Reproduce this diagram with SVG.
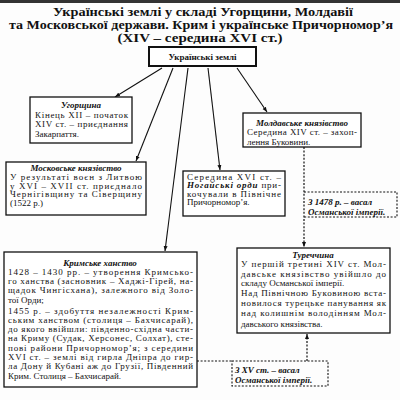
<svg xmlns="http://www.w3.org/2000/svg" width="400" height="400" viewBox="0 0 400 400">
<style>
.box{fill:#fff;stroke:#111;stroke-width:1.3}
.dbox{fill:none;stroke:#111;stroke-width:1.1;stroke-dasharray:2 1.6}
.ln{stroke:#111;stroke-width:1.1;fill:none}
.dl{stroke:#111;stroke-width:1.2;fill:none;stroke-dasharray:2 1.6}
.title{font-family:"Liberation Serif",serif;font-weight:bold;font-size:12.2px;fill:#111;text-anchor:middle}
.t{font-family:"Liberation Serif",serif;font-size:9px;fill:#111}
.h{font-weight:bold;font-style:italic}
.c{text-anchor:middle}
</style>
<defs>
<marker id="ar" viewBox="0 0 10 10" refX="10" refY="5" markerWidth="5" markerHeight="5" orient="auto-start-reverse" markerUnits="userSpaceOnUse">
<path d="M0,1 L10,5 L0,9 Z" fill="#111"/>
</marker>
</defs>
<rect width="400" height="400" fill="#fdfdfd"/>
<rect x="0" y="0" width="400" height="3" fill="#333"/>
<g id="title">
<text class="title" x="203" y="15.5" textLength="300" lengthAdjust="spacingAndGlyphs">Українські землі у складі Угорщини, Молдавії</text>
<text class="title" x="201" y="29" textLength="384" lengthAdjust="spacingAndGlyphs">та Московської держави. Крим і українське Причорномор’я</text>
<text class="title" x="200" y="42" textLength="165" lengthAdjust="spacingAndGlyphs">(XIV – середина XVI ст.)</text>
</g>
<g id="connectors">
<line class="ln" x1="162" y1="68" x2="115" y2="97" marker-end="url(#ar)"/>
<line class="ln" x1="173" y1="68" x2="136" y2="161" marker-end="url(#ar)"/>
<line class="ln" x1="188" y1="68" x2="165" y2="251" marker-end="url(#ar)"/>
<line class="ln" x1="208" y1="68" x2="220" y2="170" marker-end="url(#ar)"/>
<line class="ln" x1="237" y1="68" x2="267" y2="112" marker-end="url(#ar)"/>
<line class="dl" x1="304" y1="147" x2="304" y2="247" marker-end="url(#ar)"/>
<line class="dl" x1="307" y1="361" x2="307" y2="334" marker-end="url(#ar)"/>
<line class="dl" x1="197" y1="361" x2="232" y2="361"/>
</g>
<g id="ukr">
<rect x="149" y="47" width="107" height="19" fill="#fff" stroke="#111" stroke-width="2"/>
<text class="t c" x="202.5" y="60" font-weight="bold" font-size="9.5">Українські землі</text>
</g>
<g id="ugor">
<rect class="box" x="30" y="97" width="102" height="46"/>
<text class="t c h" x="81" y="107.5">Угорщина</text>
<text class="t" x="35" y="117.5" textLength="93" lengthAdjust="spacing">Кінець XII – початок</text>
<text class="t" x="35" y="127" textLength="93" lengthAdjust="spacing">XIV ст. – приєднання</text>
<text class="t" x="35" y="136.5">Закарпаття.</text>
</g>
<g id="mold">
<rect class="box" x="243" y="113" width="118" height="34"/>
<text class="t c h" x="302" y="125.5">Молдавське князівство</text>
<text class="t" x="247" y="135" textLength="110" lengthAdjust="spacing">Середина XIV ст. – захоп-</text>
<text class="t" x="247" y="144.5">лення Буковини.</text>
</g>
<g id="mosk">
<rect class="box" x="6" y="162" width="140" height="53"/>
<text class="t c h" x="76" y="170.5">Московське князівство</text>
<text class="t" x="10" y="180" textLength="132" lengthAdjust="spacing">У результаті воєн з Литвою</text>
<text class="t" x="10" y="188.5" textLength="132" lengthAdjust="spacing">у XVI – XVII ст. приєднало</text>
<text class="t" x="10" y="197" textLength="132" lengthAdjust="spacing">Чернігівщину та Сіверщину</text>
<text class="t" x="10" y="205.5">(1522 р.)</text>
</g>
<g id="nogai">
<rect class="box" x="183" y="171" width="102" height="45"/>
<text class="t" x="187" y="179.5" textLength="94" lengthAdjust="spacing">Середина XVI ст. –</text>
<text class="t" x="187" y="188" textLength="94" lengthAdjust="spacing"><tspan class="h">Ногайські орди</tspan> при-</text>
<text class="t" x="187" y="196.5" textLength="94" lengthAdjust="spacing">кочували в Північне</text>
<text class="t" x="187" y="205">Причорномор’я.</text>
</g>
<g id="v1478">
<path class="dbox" d="M304,192 H397 V217 H304"/>
<text class="t h" x="308" y="205">З 1478 р. – васал</text>
<text class="t h" x="308" y="215">Османської імперії.</text>
</g>
<g id="krym">
<rect class="box" x="4" y="252" width="193" height="135"/>
<text class="t c h" x="100" y="266">Кримське ханство</text>
<text class="t" x="8" y="275" textLength="185" lengthAdjust="spacing">1428 – 1430 рр. – утворення Кримсько-</text>
<text class="t" x="8" y="284.2" textLength="185" lengthAdjust="spacing">го ханства (засновник – Хаджі-Гірей, на-</text>
<text class="t" x="8" y="293.4" textLength="185" lengthAdjust="spacing">щадок Чингісхана), залежного від Золо-</text>
<text class="t" x="8" y="302.6">тої Орди;</text>
<text class="t" x="8" y="313.5" textLength="185" lengthAdjust="spacing">1455 р. – здобуття незалежності Крим-</text>
<text class="t" x="8" y="322.8" textLength="185" lengthAdjust="spacing">ським ханством (столиця – Бахчисарай),</text>
<text class="t" x="8" y="332.1" textLength="185" lengthAdjust="spacing">до якого ввійшли: південно-східна части-</text>
<text class="t" x="8" y="341.4" textLength="185" lengthAdjust="spacing">на Криму (Судак, Херсонес, Солхат), сте-</text>
<text class="t" x="8" y="350.7" textLength="185" lengthAdjust="spacing">пові райони Причорномор’я; з середини</text>
<text class="t" x="8" y="360" textLength="185" lengthAdjust="spacing">XVI ст. – землі від гирла Дніпра до гир-</text>
<text class="t" x="8" y="369.3" textLength="185" lengthAdjust="spacing">ла Дону й Кубані аж до Грузії, Південний</text>
<text class="t" x="8" y="378.6">Крим. Столиця – Бахчисарай.</text>
</g>
<g id="turk">
<rect class="box" x="237" y="248" width="153" height="85"/>
<text class="t c h" x="313" y="257.5">Туреччина</text>
<text class="t" x="241" y="267" textLength="145" lengthAdjust="spacing">У першій третині XIV ст. Мол-</text>
<text class="t" x="241" y="276.5" textLength="145" lengthAdjust="spacing">давське князівство увійшло до</text>
<text class="t" x="241" y="286">складу Османської імперії.</text>
<text class="t" x="241" y="295.5" textLength="145" lengthAdjust="spacing">Над Північною Буковиною вста-</text>
<text class="t" x="241" y="305.5" textLength="145" lengthAdjust="spacing">новилося турецьке панування як</text>
<text class="t" x="241" y="316" textLength="145" lengthAdjust="spacing">над колишнім володінням Мол-</text>
<text class="t" x="241" y="326.5">давського князівства.</text>
</g>
<g id="vXV">
<rect class="dbox" x="232" y="361" width="96" height="25"/>
<text class="t h" x="235" y="372.5">З XV ст. – васал</text>
<text class="t h" x="235" y="382.5">Османської імперії.</text>
</g>
</svg>
